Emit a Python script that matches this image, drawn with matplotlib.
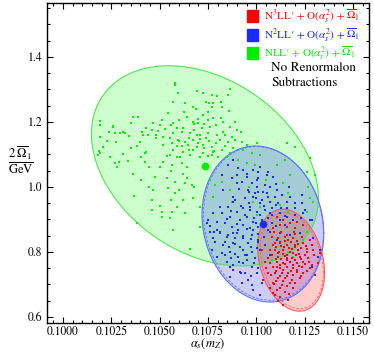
import matplotlib
matplotlib.use('Agg')
import matplotlib.pyplot as plt
import numpy as np
from matplotlib.patches import Rectangle
from matplotlib.ticker import MultipleLocator, FormatStrFormatter

plt.rcParams['font.family'] = ['STIXGeneral', 'DejaVu Serif']
plt.rcParams['mathtext.fontset'] = 'stix'

# scan points (alpha_s, 2 Omega1 / GeV)
green_x = [0.10191, 0.10191, 0.10259, 0.10191, 0.10310, 0.10269, 0.10362, 0.10388, 0.10352, 0.10408,
           0.10429, 0.10341, 0.10274, 0.10398, 0.10383, 0.10207, 0.10186, 0.10181, 0.10429, 0.10243,
           0.10403, 0.10579, 0.10579, 0.10595, 0.10693, 0.10724, 0.10770, 0.10796, 0.10853, 0.10863,
           0.10739, 0.10755, 0.10776, 0.10817, 0.10631, 0.10569, 0.10626, 0.10672, 0.10770, 0.10822,
           0.10858, 0.10543, 0.10724, 0.10672, 0.10677, 0.10750, 0.10776, 0.10817, 0.10827, 0.10465,
           0.10527, 0.10589, 0.10615, 0.10698, 0.10719, 0.10760, 0.10863, 0.10900, 0.10491, 0.10481,
           0.10569, 0.10657, 0.10693, 0.10750, 0.10796, 0.10827, 0.10874, 0.10553, 0.10595, 0.10631,
           0.10672, 0.10708, 0.10755, 0.10812, 0.10853, 0.10889, 0.10517, 0.10564, 0.10615, 0.10646,
           0.10693, 0.10724, 0.10770, 0.10838, 0.10569, 0.10620, 0.10672, 0.10776, 0.10822, 0.10863,
           0.10538, 0.10605, 0.10657, 0.10708, 0.10750, 0.10801, 0.10848, 0.10553, 0.10589, 0.10724,
           0.10770, 0.10615, 0.10641, 0.10564, 0.10517, 0.10476, 0.10538, 0.10579, 0.10631, 0.10667,
           0.10641, 0.10760, 0.10465, 0.10543, 0.10579, 0.10672, 0.10620, 0.10512, 0.10564, 0.10553,
           0.10631, 0.10874, 0.10786, 0.10822, 0.10269, 0.10290, 0.10336, 0.10424, 0.10279, 0.10445,
           0.10362, 0.10403, 0.10445, 0.10367, 0.10383, 0.10191, 0.10424, 0.10295, 0.10259, 0.10321,
           0.10414, 0.10460, 0.10501, 0.10517, 0.10569, 0.10460, 0.10512, 0.10589, 0.10460, 0.10708,
           0.10776, 0.10863, 0.10657, 0.10569, 0.10708, 0.10925, 0.10951, 0.11003, 0.11158, 0.11199,
           0.10977, 0.11018, 0.10951, 0.10993, 0.11106, 0.11148, 0.11174, 0.11137, 0.11261, 0.11267,
           0.11277, 0.11163, 0.10982, 0.11018, 0.11122, 0.11163, 0.11261, 0.11003, 0.11277, 0.11303,
           0.11293, 0.11261, 0.11163, 0.11189, 0.11081, 0.11241, 0.10905, 0.10931,
           0.10600, 0.10640, 0.10700, 0.10730, 0.10790, 0.10620, 0.10680, 0.10710, 0.10740, 0.10650,
           0.10600, 0.10700, 0.10790, 0.10840, 0.10880, 0.10780, 0.10730, 0.10650, 0.10590, 0.10560,
           0.10510, 0.10480, 0.10440, 0.10690, 0.10750, 0.10890, 0.10920, 0.10500, 0.10560, 0.10620,
           0.10350, 0.10310, 0.10230, 0.10240, 0.10560, 0.10500, 0.10600, 0.10680, 0.10960, 0.11050]
green_y = [1.203, 1.191, 1.188, 1.154, 1.169, 1.166, 1.215, 1.215, 1.197, 1.169,
           1.182, 1.157, 1.138, 1.138, 1.126, 1.123, 1.111, 1.098, 1.108, 1.092,
           1.092, 1.320, 1.314, 1.289, 1.295, 1.289, 1.283, 1.280, 1.283, 1.302,
           1.262, 1.258, 1.258, 1.262, 1.258, 1.262, 1.231, 1.246, 1.246, 1.246,
           1.234, 1.228, 1.222, 1.200, 1.194, 1.206, 1.212, 1.212, 1.200, 1.197,
           1.178, 1.182, 1.169, 1.197, 1.182, 1.185, 1.185, 1.175, 1.172, 1.160,
           1.166, 1.166, 1.160, 1.166, 1.160, 1.169, 1.154, 1.151, 1.145, 1.138,
           1.145, 1.148, 1.142, 1.145, 1.138, 1.145, 1.129, 1.135, 1.126, 1.129,
           1.123, 1.129, 1.123, 1.126, 1.114, 1.108, 1.114, 1.108, 1.114, 1.105,
           1.095, 1.092, 1.098, 1.092, 1.095, 1.092, 1.092, 1.098, 1.092, 1.105,
           1.098, 1.074, 1.062, 1.068, 1.077, 1.031, 1.028, 1.015, 1.012, 1.006,
           1.028, 1.022, 0.991, 0.997, 0.982, 0.966, 0.960, 0.923, 0.923, 0.905,
           0.920, 0.954, 1.006, 1.015, 1.074, 1.077, 1.080, 1.077, 1.062, 1.062,
           1.040, 1.022, 1.000, 0.972, 0.889, 1.105, 1.105, 1.166, 1.185, 1.166,
           1.160, 1.175, 1.191, 1.154, 1.197, 0.929, 0.908, 0.938, 0.960, 0.938,
           0.969, 0.991, 0.809, 0.868, 0.877, 1.138, 1.129, 1.135, 1.135, 1.123,
           1.105, 1.098, 1.074, 1.068, 1.068, 1.083, 1.037, 1.012, 1.046, 1.000,
           0.966, 0.982, 0.954, 0.938, 0.945, 0.923, 0.923, 0.914, 1.089, 1.037,
           0.954, 0.862, 0.797, 0.785, 0.775, 0.837, 1.083, 1.114,
           1.205, 1.215, 1.210, 1.195, 1.190, 1.180, 1.175, 1.160, 1.150, 1.150,
           1.140, 1.135, 1.135, 1.160, 1.120, 1.110, 1.120, 1.115, 1.125, 1.190,
           1.205, 1.150, 1.160, 1.240, 1.230, 1.200, 1.170, 1.060, 1.050, 1.040,
           1.120, 1.100, 1.140, 1.170, 0.960, 0.940, 0.990, 1.000, 1.000, 1.020]

blue_x = [0.10822, 0.10853, 0.10879, 0.10905, 0.10874, 0.10900, 0.10827, 0.10889, 0.10853, 0.10822,
          0.10900, 0.10750, 0.10796, 0.10838, 0.10874, 0.10905, 0.10760, 0.10812, 0.10853, 0.10889,
          0.10776, 0.10931, 0.10951, 0.10925, 0.10977, 0.11008, 0.11055, 0.11086, 0.11018, 0.11060,
          0.10956, 0.11003, 0.11034, 0.11070, 0.11106, 0.11132, 0.10941, 0.10982, 0.11029, 0.11070,
          0.11096, 0.11158, 0.11199, 0.11236, 0.11251, 0.10931, 0.10967, 0.11003, 0.11044, 0.11081,
          0.11122, 0.11158, 0.11199, 0.10951, 0.10982, 0.11029, 0.10931, 0.11081, 0.11122, 0.10967,
          0.11008, 0.11158, 0.11189, 0.11277, 0.10900, 0.10982, 0.11003, 0.11055, 0.11174, 0.11236,
          0.10879, 0.10812, 0.10776, 0.10863, 0.10915, 0.10967, 0.11018, 0.11070, 0.11241, 0.11287,
          0.10744, 0.10796, 0.10879, 0.10982, 0.10848, 0.10900, 0.10931, 0.10977, 0.10786, 0.10827,
          0.10879, 0.10915, 0.10956, 0.11003, 0.10770, 0.10822, 0.10863, 0.10905, 0.10951, 0.10993,
          0.10848, 0.10879, 0.10931, 0.10977, 0.10915, 0.10941, 0.10863, 0.10956, 0.10925, 0.10977,
          0.11003, 0.11029, 0.10982, 0.11018, 0.10863, 0.10796, 0.10838, 0.11122, 0.11174, 0.11225,
          0.11293, 0.11329, 0.11318, 0.11287, 0.11106, 0.11044, 0.10993, 0.11148, 0.11060, 0.11101,
          0.11008, 0.11044, 0.11070,
          0.10880, 0.10920, 0.10960, 0.11000, 0.11040, 0.11080, 0.11110, 0.10940, 0.10990, 0.11020,
          0.11060, 0.11100, 0.10900, 0.10950, 0.11000, 0.11040, 0.11070, 0.10930, 0.10970, 0.11010,
          0.11040, 0.10890, 0.10930, 0.10970, 0.11010, 0.10860, 0.10890, 0.10940, 0.10980, 0.11020,
          0.10910, 0.10950, 0.10990, 0.10870, 0.10840, 0.10810, 0.10850, 0.10870, 0.10960, 0.11010,
          0.11060, 0.11130, 0.11150, 0.11200, 0.11230, 0.10910, 0.10950, 0.11010, 0.11100, 0.11170,
          0.10780, 0.10760, 0.10920, 0.10970, 0.10880, 0.11010]
blue_y = [1.037, 1.068, 1.083, 1.058, 1.028, 1.012, 0.991, 0.960, 0.938, 0.920,
          0.923, 0.898, 0.892, 0.889, 0.877, 0.868, 0.862, 0.858, 0.852, 0.843,
          0.843, 1.052, 1.031, 1.015, 1.012, 1.028, 1.037, 1.031, 1.062, 1.046,
          0.991, 1.000, 0.985, 1.000, 0.991, 0.975, 0.966, 0.969, 0.960, 0.954,
          0.969, 0.954, 0.951, 0.975, 0.929, 0.935, 0.938, 0.923, 0.929, 0.914,
          0.920, 0.908, 0.914, 0.908, 0.892, 0.898, 0.883, 0.889, 0.898, 0.874,
          0.877, 0.935, 0.898, 0.898, 1.037, 1.052, 1.022, 0.982, 0.969, 0.951,
          0.969, 0.938, 0.920, 0.908, 0.898, 0.929, 0.951, 0.920, 0.920, 0.898,
          0.889, 0.868, 0.858, 0.868, 0.846, 0.858, 0.843, 0.852, 0.831, 0.822,
          0.828, 0.815, 0.828, 0.812, 0.806, 0.797, 0.800, 0.785, 0.791, 0.782,
          0.769, 0.760, 0.766, 0.754, 0.738, 0.735, 0.723, 0.714, 0.705, 0.698,
          0.735, 0.705, 0.683, 0.668, 0.754, 0.785, 0.791, 0.858, 0.852, 0.858,
          0.843, 0.806, 0.785, 0.754, 0.837, 1.006, 0.982, 0.883, 0.868, 0.945,
          0.837, 0.822, 0.791,
          0.955, 0.940, 0.950, 0.965, 0.940, 0.935, 0.950, 0.915, 0.905, 0.915,
          0.905, 0.880, 0.885, 0.870, 0.890, 0.880, 0.860, 0.850, 0.840, 0.855,
          0.845, 0.825, 0.805, 0.815, 0.830, 0.815, 0.795, 0.790, 0.800, 0.805,
          0.770, 0.775, 0.765, 0.780, 0.830, 0.860, 0.900, 0.925, 0.985, 0.985,
          0.970, 0.935, 0.910, 0.935, 0.905, 0.995, 1.040, 1.045, 1.010, 1.000,
          0.860, 0.880, 0.735, 0.725, 0.745, 0.750]

red_x = [0.11106, 0.11137, 0.11174, 0.11122, 0.11210, 0.11241, 0.11158, 0.11199, 0.11086, 0.11081,
         0.11112, 0.11148, 0.11189, 0.11236, 0.11277, 0.11086, 0.11122, 0.11158, 0.11199, 0.11241,
         0.11287, 0.11096, 0.11137, 0.11174, 0.11215, 0.11261, 0.11293, 0.11081, 0.11112, 0.11148,
         0.11184, 0.11225, 0.11267, 0.11106, 0.11137, 0.11174, 0.11210, 0.11241, 0.11086, 0.11122,
         0.11158, 0.11189, 0.11236, 0.11277, 0.11096, 0.11132, 0.11163, 0.11210, 0.11241, 0.11112,
         0.11148, 0.11184, 0.11225, 0.11086, 0.11132, 0.11174, 0.11106, 0.11148, 0.11189, 0.11122,
         0.11163, 0.11137, 0.11096, 0.11070, 0.11075, 0.11070, 0.11070, 0.11029, 0.11044, 0.11060,
         0.11096, 0.11106, 0.11086, 0.11034, 0.11329, 0.11318, 0.11303, 0.11163, 0.11205, 0.11143,
         0.11184, 0.11256, 0.11117, 0.11158, 0.11215, 0.11127, 0.11194,
         0.11120, 0.11150, 0.11180, 0.11210, 0.11100, 0.11130, 0.11170, 0.11200, 0.11230, 0.11260,
         0.11110, 0.11140, 0.11160, 0.11190, 0.11220, 0.11250, 0.11100, 0.11130, 0.11160, 0.11200,
         0.11230, 0.11270, 0.11120, 0.11150, 0.11190, 0.11220, 0.11250, 0.11100, 0.11140, 0.11180,
         0.11210, 0.11260, 0.11120, 0.11160, 0.11190, 0.11230, 0.11100, 0.11140, 0.11200, 0.11160,
         0.11120, 0.11090, 0.11130, 0.11160, 0.11200, 0.11090, 0.11300, 0.11290, 0.11060, 0.11050,
         0.11170, 0.11110]
red_y = [0.908, 0.898, 0.889, 0.883, 0.892, 0.883, 0.877, 0.874, 0.874, 0.846,
         0.843, 0.846, 0.843, 0.846, 0.837, 0.822, 0.828, 0.822, 0.822, 0.828,
         0.822, 0.806, 0.806, 0.800, 0.806, 0.800, 0.806, 0.791, 0.785, 0.788,
         0.782, 0.785, 0.782, 0.769, 0.766, 0.769, 0.766, 0.769, 0.754, 0.751,
         0.754, 0.751, 0.754, 0.751, 0.735, 0.735, 0.735, 0.738, 0.735, 0.720,
         0.720, 0.714, 0.720, 0.705, 0.698, 0.705, 0.683, 0.677, 0.689, 0.662,
         0.652, 0.637, 0.668, 0.689, 0.729, 0.766, 0.806, 0.806, 0.769, 0.735,
         0.828, 0.754, 0.674, 0.714, 0.797, 0.766, 0.729, 0.837, 0.791, 0.815,
         0.809, 0.818, 0.800, 0.775, 0.825, 0.862, 0.862,
         0.830, 0.835, 0.830, 0.835, 0.815, 0.818, 0.812, 0.815, 0.812, 0.808,
         0.796, 0.795, 0.792, 0.797, 0.795, 0.790, 0.778, 0.778, 0.780, 0.776,
         0.778, 0.770, 0.760, 0.762, 0.760, 0.758, 0.762, 0.742, 0.745, 0.742,
         0.745, 0.740, 0.727, 0.725, 0.728, 0.726, 0.712, 0.710, 0.705, 0.695,
         0.690, 0.700, 0.860, 0.852, 0.855, 0.860, 0.790, 0.760, 0.780, 0.750,
         0.670, 0.650]

# best fits (green, blue) and 1-sigma ellipses: center, half widths, correlation
best_x = [0.10734, 0.11034]
best_y = [1.065, 0.886]
ell_cx = [0.10734, 0.11034, 0.11180]
ell_cy = [1.065, 0.886, 0.775]
ell_sx = [0.00587, 0.00315, 0.00173]
ell_sy = [0.308, 0.240, 0.157]
ell_rho = [-0.32, -0.12, -0.25]

colors = ['#00ee00', '#1a2bff', '#ff0000']
labels = ["N$^3$LL\u2032 + O($\\alpha_s^2$) + $\\overline{\\Omega}_1$",
          "N$^2$LL\u2032 + O($\\alpha_s^2$) + $\\overline{\\Omega}_1$",
          "NLL\u2032 + O($\\alpha_s^2$) + $\\overline{\\Omega}_1$"]


def ellipse(i, scale=1.0, dx=0.0, dy=0.0):
    t = np.linspace(0, 2 * np.pi, 300)
    r = ell_rho[i]
    ex = ell_cx[i] + dx + scale * ell_sx[i] * np.cos(t)
    ey = ell_cy[i] + dy + scale * ell_sy[i] * (r * np.cos(t) + np.sqrt(1 - r * r) * np.sin(t))
    return ex, ey


fig = plt.figure(figsize=(3.74, 3.54), dpi=100)
ax = fig.add_axes([47/374, 31/354, 322/374, 320/354])

fills = [(0, 1, 0), (0, 0, 1), (1, 0, 0)]
edges = [(0.3, 0.9, 0.3), (0.35, 0.45, 1.0), (1.0, 0.35, 0.35)]
for i in range(3):
    ex, ey = ellipse(i)
    ax.fill(ex, ey, color=fills[i], alpha=0.2, lw=0)
    ax.plot(ex, ey, color=edges[i], lw=0.8)
# dashed companions
ex, ey = ellipse(1, 0.985, 0.00003, 0.002)
ax.plot(ex, ey, color=edges[1], lw=0.6, ls=(0, (3, 2)))
ex, ey = ellipse(2, 0.94, 0.00004, -0.002)
ax.plot(ex, ey, color=edges[2], lw=0.6, ls=(0, (3, 2)))

for xs, ys, c in [(green_x, green_y, colors[0]), (blue_x, blue_y, colors[1]), (red_x, red_y, colors[2])]:
    ax.plot(xs, ys, 's', ms=1.8, mew=0, color=c)
for i in range(2):
    ax.plot(best_x[i], best_y[i], 'o', ms=5.5, mew=0, color=colors[i])

ax.set_xlim(0.09917, 0.11583)
ax.set_ylim(0.5815, 1.566)
ax.xaxis.set_major_locator(MultipleLocator(0.0025))
ax.xaxis.set_minor_locator(MultipleLocator(0.0005))
ax.yaxis.set_major_locator(MultipleLocator(0.2))
ax.yaxis.set_minor_locator(MultipleLocator(0.05))
ax.xaxis.set_major_formatter(FormatStrFormatter('%.4f'))
ax.yaxis.set_major_formatter(FormatStrFormatter('%.1f'))
ax.tick_params(which='both', direction='in', top=True, right=True, labelsize=8.5, width=0.8)
ax.tick_params(which='major', length=4.5)
ax.tick_params(which='minor', length=2.5)
ax.tick_params(axis='x', pad=2)
for s in ax.spines.values():
    s.set_linewidth(1.0)

fig.text(208/374, 1 - 351/354, r'$\alpha_s(m_Z)$', ha='center', va='bottom', fontsize=9)
fig.text(21/374, 1 - 160/354, r'$\frac{2\;\overline{\Omega}_1}{\mathrm{GeV}}$', ha='center', va='center', fontsize=13)

# legend
rows = [16, 35, 53]
for i, yy in enumerate(rows):
    c = colors[2 - i]
    fig.patches.append(Rectangle((247/374, 1 - (yy + 6)/354), 11/374, 12/354,
                                 transform=fig.transFigure, color=c, figure=fig))
    fig.text(264/374, 1 - yy/354, labels[i], color=c, fontsize=8, va='center', ha='left')
fig.text(271/374, 1 - 68/354, 'No Renormalon', fontsize=9.5, va='center', ha='left')
fig.text(271/374, 1 - 83/354, 'Subtractions', fontsize=9.5, va='center', ha='left')

fig.savefig('out.png', dpi=100)
